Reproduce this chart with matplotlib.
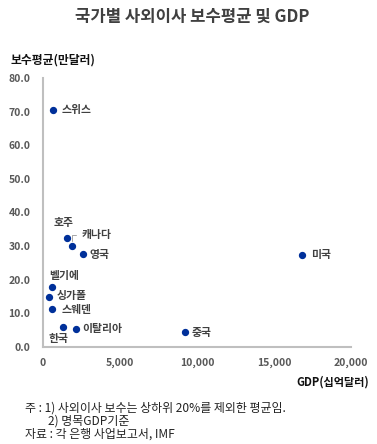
import matplotlib
matplotlib.use("Agg")
import matplotlib.pyplot as plt

plt.rcParams['font.family'] = ['Noto Sans CJK KR', 'DejaVu Sans']

countries = ['스위스', '호주', '캐나다', '영국', '벨기에', '싱가폴', '스웨덴', '한국', '이탈리아', '중국', '미국']
gdp = [650, 1560, 1880, 2600, 580, 390, 580, 1300, 2140, 9200, 16800]
pay = [70.5, 32.4, 30.0, 27.7, 17.8, 14.9, 11.3, 6.0, 5.4, 4.5, 27.4]
# label offsets in pixels (dx, dy, ha)
offsets = {
    '스위스': (9, 0, 'left'), '호주': (-3, 15, 'center'), '캐나다': (10, 11, 'left'),
    '영국': (6, -1, 'left'), '벨기에': (-3, 11, 'left'), '싱가폴': (8, 1, 'left'),
    '스웨덴': (10, -1, 'left'), '한국': (-5, -12, 'center'), '이탈리아': (6, 0, 'left'),
    '중국': (7, -1, 'left'), '미국': (9, 0, 'left'),
}
yticks = [0, 10, 20, 30, 40, 50, 60, 70, 80]
xticks = [0, 5000, 10000, 15000, 20000]

fig = plt.figure(figsize=(3.77, 4.44), dpi=100)
ax = fig.add_axes([43/377, 1-347/444, (351-43)/377, (347-78)/444])

ax.scatter(gdp, pay, s=18, color='#00309a', zorder=3, clip_on=False)
for c, x, y in zip(countries, gdp, pay):
    dx, dy, ha = offsets[c]
    ax.annotate(c, (x, y), xytext=(dx, dy), textcoords='offset pixels',
                ha=ha, va='center', fontsize=7.8, fontweight='bold', color='#404040')

# leader line for 캐나다
ax.annotate('', xy=(1880, 30.8), xytext=(2300, 33.3), textcoords='data',
            arrowprops=dict(arrowstyle='-', color='#a6a6a6', lw=0.7,
                            connectionstyle='angle,angleA=0,angleB=90,rad=0'))

ax.set_xlim(0, 20000)
ax.set_ylim(0, 80)
ax.set_yticks(yticks)
ax.set_yticklabels([f'{v:.1f}' for v in yticks])
ax.set_xticks(xticks)
ax.set_xticklabels([f'{v:,}' for v in xticks])
ax.tick_params(length=0, labelsize=7.5, labelcolor='#595959')
ax.tick_params(axis='x', pad=8)
ax.tick_params(axis='y', pad=9)
for lab in ax.get_xticklabels() + ax.get_yticklabels():
    lab.set_fontweight('bold')
for s in ['top', 'right']:
    ax.spines[s].set_visible(False)
for s in ['left', 'bottom']:
    ax.spines[s].set_color('#bfbfbf')
    ax.spines[s].set_linewidth(1.5)

fig.text(192/377, 1-17/444, '국가별 사외이사 보수평균 및 GDP', ha='center', va='center',
         fontsize=12, fontweight='bold', color='#404040')
fig.text(11/377, 1-60/444, '보수평균(만달러)', ha='left', va='center',
         fontsize=8.5, fontweight='bold', color='#111111')
fig.text(369/377, 1-382/444, 'GDP(십억달러)', ha='right', va='center',
         fontsize=8, fontweight='bold', color='#111111')
fig.text(25/377, 1-408/444, '주 : 1) 사외이사 보수는 상하위 20%를 제외한 평균임.', ha='left', va='center',
         fontsize=8.6, color='#222222')
fig.text(48/377, 1-421/444, '2) 명목GDP기준', ha='left', va='center',
         fontsize=8.6, color='#222222')
fig.text(25/377, 1-434/444, '자료 : 각 은행 사업보고서, IMF', ha='left', va='center',
         fontsize=8.6, color='#222222')

fig.savefig('out.png', dpi=100)
